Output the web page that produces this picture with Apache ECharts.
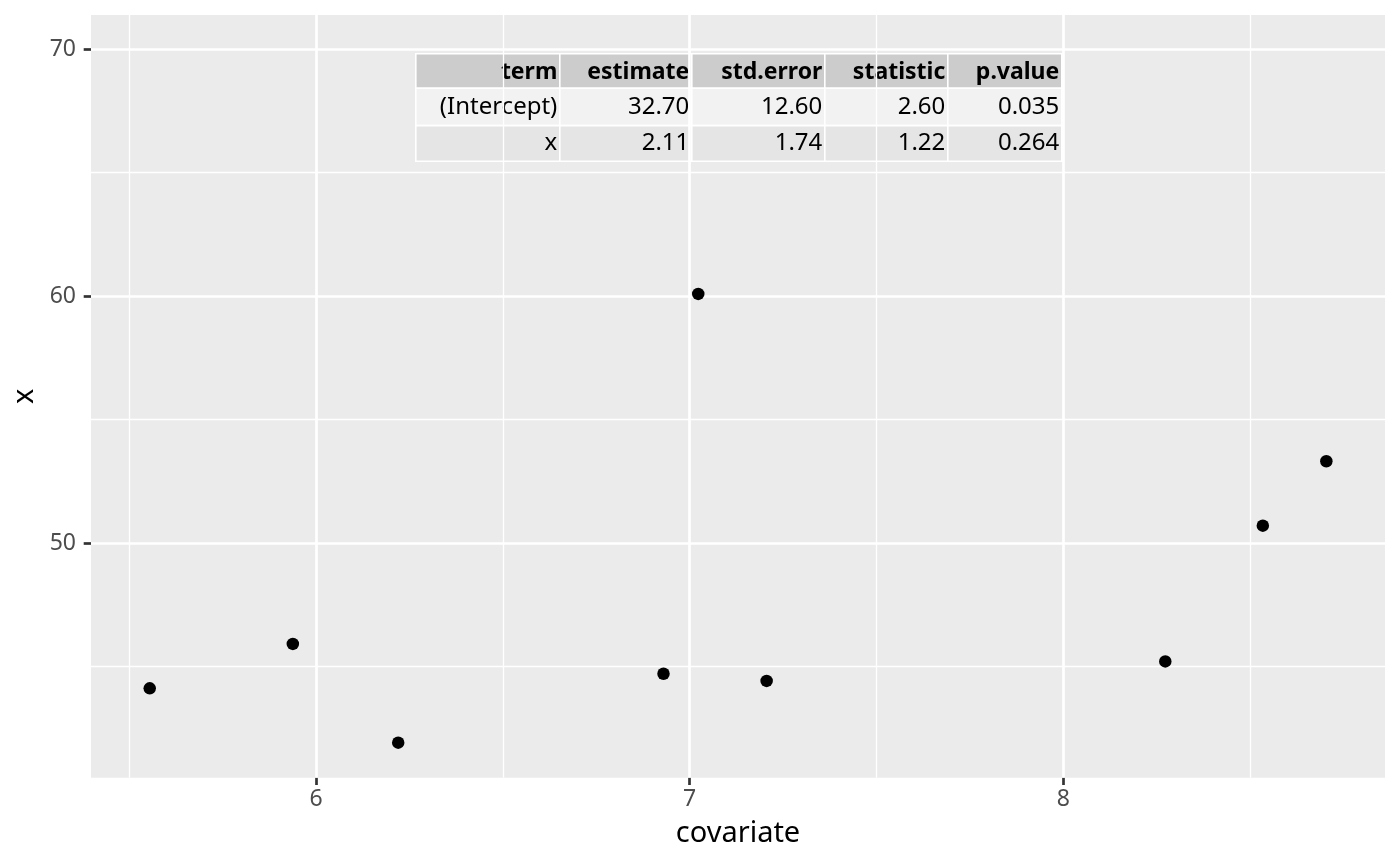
<!DOCTYPE html>
<html><head><meta charset="utf-8">
<script src="https://cdn.jsdelivr.net/npm/echarts@6/dist/echarts.min.js"></script>
<style>html,body{margin:0;padding:0;background:#fff}#c{width:1400px;height:866px}</style>
</head><body><div id="c"></div>
<script>
const covariate = [5.555, 5.938, 6.220, 6.930, 7.023, 7.206, 8.273, 8.534, 8.704];
const xValues = [44.11, 45.91, 41.91, 44.70, 60.09, 44.41, 45.20, 50.70, 53.31];
const xTicks = [6, 7, 8];
const xMinorGrid = [5.5, 6.5, 7.5, 8.5];
const yTicks = [50, 60, 70];
const yMinorGrid = [45, 55, 65];
const tableHeader = ['term', 'estimate', 'std.error', 'statistic', 'p.value'];
const tableTerm = ['(Intercept)', 'x'];
const tableEstimate = ['32.70', '2.11'];
const tableStdError = ['12.60', '1.74'];
const tableStatistic = ['2.60', '1.22'];
const tablePValue = ['0.035', '0.264'];

const FONT = '"Noto Sans", "DejaVu Sans", sans-serif';
const chart = echarts.init(document.getElementById('c'), null, {renderer: 'canvas'});

const points = covariate.map((v, i) => [v, xValues[i]]);

function gridLines(vals, axis, width) {
  return vals.map(v => ({[axis]: v, lineStyle: {color: '#ffffff', width: width, type: 'solid'}}));
}

// table layout
const colW = [144, 132, 133, 123, 114];
const rowH = [34.5, 37.3, 35.7];
const rowFill = ['#CCCCCC', '#F2F2F2', '#E5E5E5'];
const rows = [tableHeader].concat(tableTerm.map((t, i) => [t, tableEstimate[i], tableStdError[i], tableStatistic[i], tablePValue[i]]));
const tableChildren = [];
let yy = 0;
rows.forEach((row, r) => {
  let xx = 0;
  row.forEach((cell, c) => {
    tableChildren.push({
      type: 'rect',
      shape: {x: xx, y: yy, width: colW[c], height: rowH[r]},
      style: {fill: rowFill[r], stroke: '#ffffff', lineWidth: 1.6}
    });
    tableChildren.push({
      type: 'text',
      style: {
        text: cell, x: xx + colW[c] - 2.5, y: yy + rowH[r] / 2 + (r === 0 ? 1 : 0),
        align: 'right', verticalAlign: 'middle',
        font: (r === 0 ? 'bold 23px ' : '24px ') + FONT, fill: '#000000'
      }
    });
    xx += colW[c];
  });
  yy += rowH[r];
});

chart.setOption({
  animation: false,
  backgroundColor: '#ffffff',
  grid: {left: 91, right: 15, top: 15, bottom: 88.3, show: true, backgroundColor: '#EBEBEB', borderWidth: 0},
  xAxis: {
    type: 'value', min: 5.3978, max: 8.861,
    name: 'covariate', nameLocation: 'middle', nameGap: 42,
    nameTextStyle: {color: '#000000', fontSize: 29, fontFamily: FONT},
    axisLine: {show: false},
    splitLine: {show: false},
    axisTick: {show: true, customValues: xTicks, length: 7.3, lineStyle: {color: '#333333', width: 2.7}},
    axisLabel: {customValues: xTicks, color: '#4D4D4D', fontSize: 23, fontFamily: FONT, margin: 10}
  },
  yAxis: {
    type: 'value', min: 40.49, max: 71.39,
    name: 'x', nameLocation: 'middle', nameGap: 46, nameRotate: 90,
    nameTextStyle: {color: '#000000', fontSize: 29, fontFamily: FONT},
    axisLine: {show: false},
    splitLine: {show: false},
    axisTick: {show: true, customValues: yTicks, length: 7.3, lineStyle: {color: '#333333', width: 2.7}},
    axisLabel: {customValues: yTicks, color: '#4D4D4D', fontSize: 23, fontFamily: FONT, margin: 15}
  },
  series: [
    {
      type: 'scatter', data: points, symbolSize: 0, silent: true, z: 1,
      markLine: {
        silent: true, z: 1, symbol: ['none', 'none'], label: {show: false}, animation: false,
        data: gridLines(xMinorGrid, 'xAxis', 1.3).concat(gridLines(yMinorGrid, 'yAxis', 1.3))
          .concat(gridLines(xTicks, 'xAxis', 2.7)).concat(gridLines(yTicks, 'yAxis', 2.7))
      }
    },
    {
      type: 'scatter', data: points, symbol: 'circle', symbolSize: 12.5, z: 10,
      itemStyle: {color: '#000000', opacity: 1}
    }
  ],
  graphic: [{type: 'group', left: 415, top: 53, z: 100, children: tableChildren}]
});
</script></body></html>
